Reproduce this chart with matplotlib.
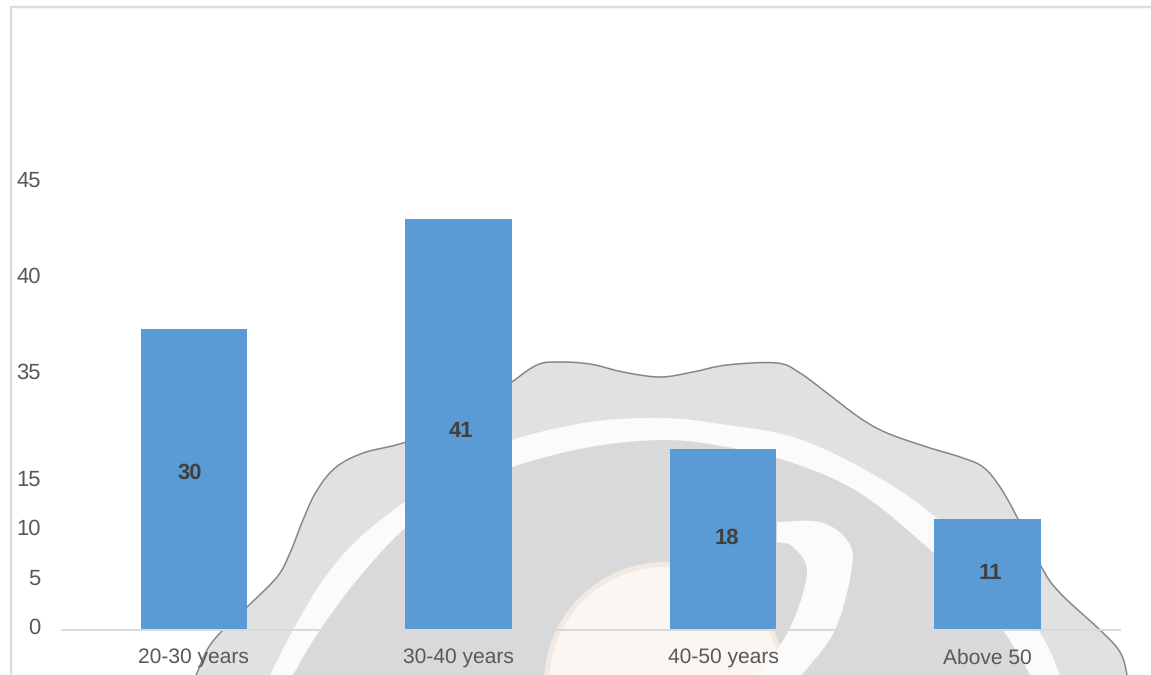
import numpy as np
import matplotlib
matplotlib.use('Agg')
import matplotlib.pyplot as plt
from matplotlib.patches import Circle, Polygon

# Chart data
categories = ['20-30 years', '30-40 years', '40-50 years', 'Above 50']
values = [30, 41, 18, 11]
y_ticks = [0.3, 5.2, 10.2, 15.1, 25.8, 35.5, 45.1]
y_tick_labels = ['0', '5', '10', '15', '35', '40', '45']

# Small nudges of the value labels inside the bars, in pixels
label_dx = [-4, 2, 4, 3]
label_dy = [6, -7, 1, 1]

W, H = 1151, 675
PX = 72 / 100  # points per pixel at dpi 100

plt.rcParams['font.family'] = ['Liberation Sans', 'DejaVu Sans']
plt.rcParams['text.hinting'] = 'no_hinting'
plt.rcParams['text.hinting_factor'] = 1


def smooth(points, n=12):
    # Catmull-Rom through the traced points
    p = np.array(points, dtype=float)
    p = np.vstack([p[0], p, p[-1]])
    out = []
    for i in range(1, len(p) - 2):
        for t in np.linspace(0, 1, n, endpoint=False):
            out.append(0.5 * (2 * p[i] + (p[i + 1] - p[i - 1]) * t
                              + (2 * p[i - 1] - 5 * p[i] + 4 * p[i + 1] - p[i + 2]) * t ** 2
                              + (3 * p[i] - p[i - 1] - 3 * p[i + 1] + p[i + 2]) * t ** 3))
    out.append(p[-2])
    return np.array(out)


# Watermark outline behind the chart, runs off the bottom of the picture
seal_edge = [(185, 700), (197, 673), (207, 650), (221, 632), (247, 607), (277, 577), (290, 553),
             (303, 520), (316, 492), (335, 468), (363, 453), (403, 443), (460, 422), (512, 382),
             (537, 365), (557, 362), (590, 364), (623, 372), (660, 377), (693, 372), (727, 365),
             (777, 363), (800, 373), (827, 393), (860, 418), (887, 433), (927, 447), (960, 457),
             (983, 467), (1000, 487), (1017, 517), (1042, 568), (1060, 593), (1100, 630),
             (1120, 652), (1127, 675), (1130, 700)]
ring_outer = [(258, 700), (270, 675), (293, 630), (323, 580), (357, 540), (403, 503), (455, 466),
              (512, 440), (590, 422), (665, 418), (727, 425), (793, 437), (860, 467), (927, 510),
              (990, 570), (1040, 633), (1060, 675), (1070, 700)]
ring_inner = [(280, 700), (293, 675), (320, 630), (357, 580), (403, 530), (455, 492), (512, 467),
              (590, 447), (665, 440), (727, 447), (793, 463), (860, 493), (927, 547), (975, 592),
              (1005, 633), (1030, 675), (1040, 700)]
swoosh_out = [(777, 522), (820, 522), (847, 540), (852, 567), (835, 630), (802, 675), (785, 700)]
swoosh_in = [(777, 542), (793, 547), (807, 573), (789, 630), (757, 675), (742, 700)]

fig = plt.figure(figsize=(W / 100, H / 100), dpi=100, facecolor='white')

bg = fig.add_axes([0, 0, 1, 1])
bg.set_xlim(0, W)
bg.set_ylim(H, 0)
bg.axis('off')
bg.add_patch(Polygon(smooth(seal_edge), closed=True, fc='#e1e1e1', ec='#858585', lw=1.1))
bg.add_patch(Polygon(smooth(ring_outer), closed=True, fc='#fbfbfb', ec='none'))
bg.add_patch(Polygon(smooth(ring_inner), closed=True, fc='#d9d9d9', ec='none'))
bg.add_patch(Circle((665, 683), 121, fc='#f4e9e0', ec='none'))
bg.add_patch(Circle((665, 683), 116, fc='#fbf6f2', ec='none'))
bg.add_patch(Polygon(np.vstack([smooth(swoosh_out), smooth(swoosh_in)[::-1]]), closed=True,
                     fc='#fbfbfb', ec='none'))
bg.plot([11, 11, W], [H, 7, 7], color='#dcdcdc', lw=1.7, solid_joinstyle='miter')

# Chart axes: bars sit on y=629px, about 10px per unit
ax = fig.add_axes([61.6 / W, (H - 629) / H, (1120 - 61.6) / W, 450.5 / H])
ax.patch.set_alpha(0)
x = np.arange(len(categories))
bars = ax.bar(x, values, width=0.403, color='#5b9bd5')
ax.set_xlim(-0.5, 3.5)
ax.set_ylim(0, 45)

for spine in ['top', 'right', 'left']:
    ax.spines[spine].set_visible(False)
ax.spines['bottom'].set_position(('outward', 1))
ax.spines['bottom'].set_color('#d9d9d9')
ax.spines['bottom'].set_linewidth(1.4)

ax.set_xticks(x)
ax.set_xticklabels(categories, fontsize=15.3, color='#595959')
ax.tick_params(axis='x', length=0, pad=13)

ax.set_yticks(y_ticks)
ax.set_yticklabels(y_tick_labels, fontsize=16.2, color='#595959')
ax.tick_params(axis='y', length=0, pad=(61.6 - 40.5) * PX)

for bar, v, dx, dy in zip(bars, values, label_dx, label_dy):
    ax.annotate(str(v), (bar.get_x() + bar.get_width() / 2, v / 2),
                xytext=(dx * PX, dy * PX), textcoords='offset points',
                ha='center', va='center', fontsize=15.5, fontweight='bold', color='#404040')

fig.savefig('out.png', dpi=100)
